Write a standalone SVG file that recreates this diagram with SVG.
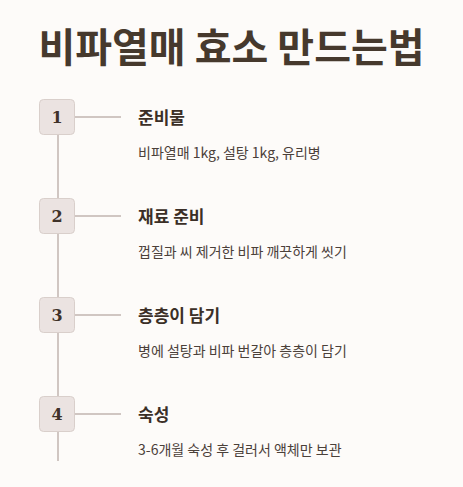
<svg xmlns="http://www.w3.org/2000/svg" width="463" height="487" viewBox="0 0 463 487">
<style>
.title{font-family:"Noto Sans CJK KR","Noto Sans",sans-serif;font-weight:700;font-size:40px;fill:#46392d}
.box{fill:#ebe3e1;stroke:#d9cfcb;stroke-width:1}
.num{font-family:"DejaVu Serif","Liberation Serif",serif;font-weight:700;font-size:16px;fill:#3f3229}
.st{font-family:"Noto Sans CJK KR","Noto Sans",sans-serif;font-weight:700;font-size:17px;fill:#3b2f27}
.desc{font-family:"Noto Sans CJK KR","Noto Sans",sans-serif;font-size:14px;fill:#4b4039}
.ln{stroke:#d0c6c2;stroke-width:2;fill:none}
</style>
<rect width="463" height="487" fill="#fdfbf9"/>
<text class="title" x="231.5" y="62" text-anchor="middle">비파열매 효소 만드는법</text>
<g id="connectors">
<line class="ln" x1="58" y1="135" x2="58" y2="198"/>
<line class="ln" x1="58" y1="234" x2="58" y2="297"/>
<line class="ln" x1="58" y1="333" x2="58" y2="396"/>
<line class="ln" x1="58" y1="432" x2="58" y2="461"/>
<line class="ln" x1="75" y1="117" x2="121" y2="117"/>
<line class="ln" x1="75" y1="216" x2="121" y2="216"/>
<line class="ln" x1="75" y1="315" x2="121" y2="315"/>
<line class="ln" x1="75" y1="414" x2="121" y2="414"/>
</g>
<g id="step1">
<rect class="box" x="39.5" y="99.5" width="35" height="35" rx="4"/>
<text class="num" x="57" y="123" text-anchor="middle">1</text>
<text class="st" x="138" y="124">준비물</text>
<text class="desc" x="138" y="158">비파열매 1kg, 설탕 1kg, 유리병</text>
</g>
<g id="step2">
<rect class="box" x="39.5" y="198.5" width="35" height="35" rx="4"/>
<text class="num" x="57" y="222" text-anchor="middle">2</text>
<text class="st" x="138" y="223">재료 준비</text>
<text class="desc" x="138" y="257">껍질과 씨 제거한 비파 깨끗하게 씻기</text>
</g>
<g id="step3">
<rect class="box" x="39.5" y="297.5" width="35" height="35" rx="4"/>
<text class="num" x="57" y="321" text-anchor="middle">3</text>
<text class="st" x="138" y="322">층층이 담기</text>
<text class="desc" x="138" y="356">병에 설탕과 비파 번갈아 층층이 담기</text>
</g>
<g id="step4">
<rect class="box" x="39.5" y="396.5" width="35" height="35" rx="4"/>
<text class="num" x="57" y="420" text-anchor="middle">4</text>
<text class="st" x="138" y="421">숙성</text>
<text class="desc" x="138" y="455">3-6개월 숙성 후 걸러서 액체만 보관</text>
</g>
</svg>
